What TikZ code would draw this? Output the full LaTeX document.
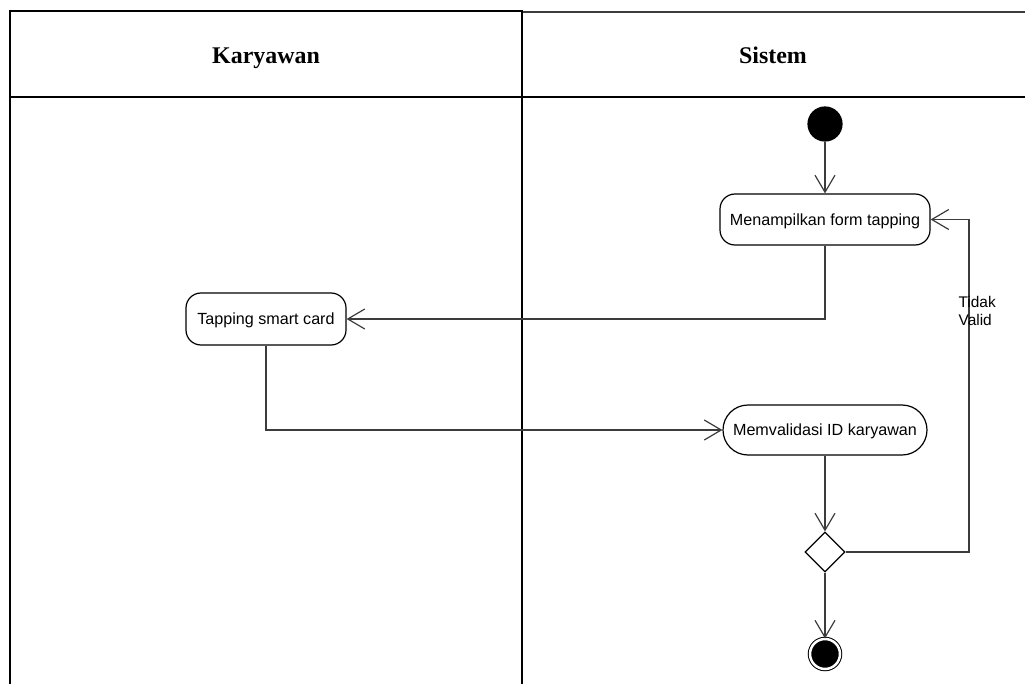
\documentclass[tikz,border=0pt]{standalone}
\usepackage{fontspec}
\setmainfont{Liberation Serif}
\setsansfont{Liberation Sans}
\usetikzlibrary{arrows.meta,shapes.geometric}
\definecolor{ink}{HTML}{000000}
\definecolor{ink2}{HTML}{3C3C3C}
\tikzset{
  >={Straight Barb[length=17bp,width=20bp]},
  every picture/.style={line width=1.2bp},
  lane/.style={draw=ink,line width=1.4bp},
  hd/.style={font=\rmfamily\bfseries\fontsize{24}{26}\selectfont,inner sep=0pt,anchor=base},
  act/.style={draw=ink,fill=white,line width=1.2bp,rounded corners=15bp,align=center,
    inner sep=0pt,text height=11.7bp,text depth=0pt,font=\sffamily\fontsize{16.2}{18}\selectfont},
  actr/.style={act,rounded corners=25bp},
  dec/.style={diamond,draw=ink,fill=white,aspect=1,inner sep=0pt,minimum size=40bp,line width=1.2bp},
  init/.style={circle,fill=ink,draw=ink,inner sep=0pt,minimum size=34bp},
  final/.style={circle,fill=ink,draw=ink,line width=1bp,double=white,double distance=2.5bp,
    inner sep=0pt,minimum size=30bp},
  arr/.style={->,draw=ink2,line width=1.2bp},
  lab/.style={font=\sffamily\fontsize{15.5}{18}\selectfont,align=left,inner sep=0pt},
}
\begin{document}
\begin{tikzpicture}[x=1bp,y=1bp]
  \useasboundingbox (0,0) rectangle (1025,-684);
  % swimlanes
  \draw[lane,line width=2.6bp] (10,-11) -- (522,-11);
  \draw[lane,draw=ink2] (522,-12) -- (1025,-12);
  \draw[lane] (10,-97) -- (1025,-97);
  \draw[lane] (10,-10) -- (10,-684);
  \draw[lane] (522,-10) -- (522,-684);
  \node[hd] (hkar) at (266,-63.5) {Karyawan};
  \node[hd] (hsis) at (773,-63.5) {Sistem};
  % activities
  \node[init] (start) at (825,-124) {};
  \node[act,minimum width=210bp,minimum height=51bp] (showform) at (825,-219.5) {Menampilkan form tapping};
  \node[act,minimum width=160bp,minimum height=52bp] (tapcard) at (266,-319) {Tapping smart card};
  \node[actr,minimum width=204bp,minimum height=50bp] (validate) at (825,-430) {Memvalidasi ID karyawan};
  \node[dec] (check) at (825,-552) {};
  \node[final] (stop) at (825,-654) {};
  \coordinate (loop) at (969,-552);
  % flows
  \draw[arr] (start) -- (showform);
  \draw[arr] (showform.south) |- (tapcard.east);
  \draw[arr] (tapcard.south) |- (validate.west);
  \draw[arr] (validate) -- (check);
  \draw[arr] (check.east) -- (loop) |- (showform.east);
  \draw[arr] (check) -- (stop);
  \node[lab,anchor=west] (tv) at (958,-311) {Tidak\\Valid};
\end{tikzpicture}
\end{document}
